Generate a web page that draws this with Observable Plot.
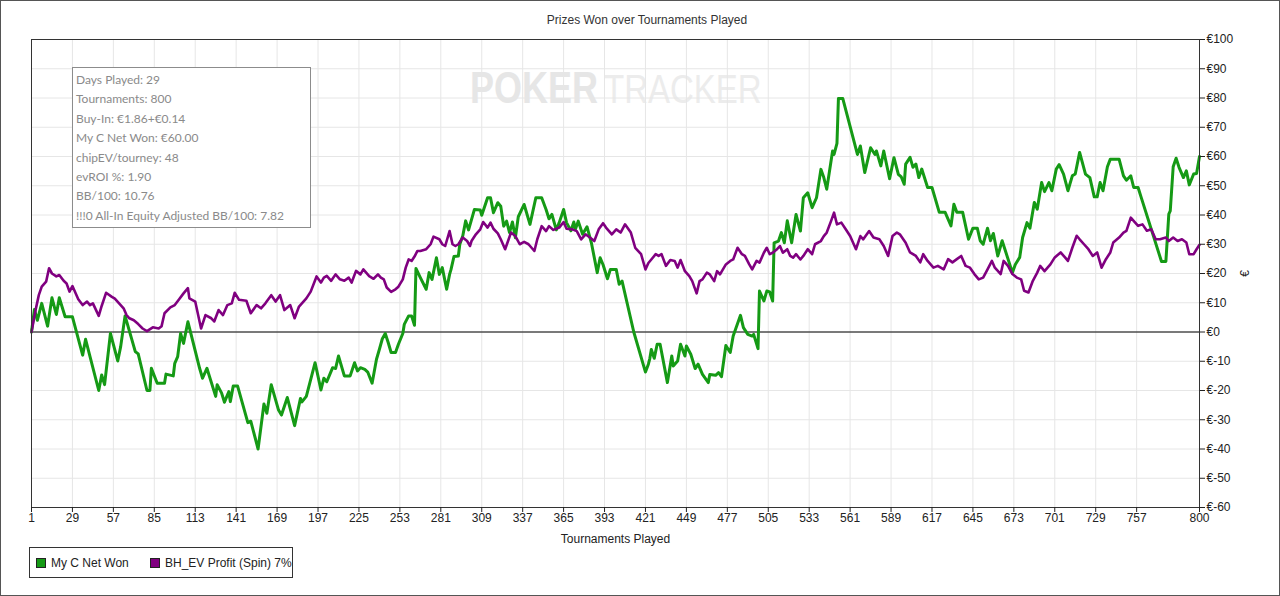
<!DOCTYPE html>
<html>
<head>
<meta charset="utf-8">
<script src="https://cdn.jsdelivr.net/npm/d3@7"></script>
<script src="https://cdn.jsdelivr.net/npm/@observablehq/plot@0.6"></script>
<style>
  html, body { margin: 0; padding: 0; background: #fff; }
  #wrap { position: relative; width: 1280px; height: 596px; overflow: hidden; background: #fff; font-family: "Liberation Sans", Arial, sans-serif; }
  #wm { position: absolute; left: 466px; top: 60px; z-index: 0; overflow: visible; }
  #chart { position: absolute; left: 0; top: 0; z-index: 1; }
  #title { position: absolute; left: 0; top: 13px; width: 1294px; text-align: center; font-size: 12px; color: #333; z-index: 2; }
  #info { position: absolute; left: 72px; top: 67px; width: 239px; height: 161px; border: 1px solid #8c8c8c; background: #fff; z-index: 2; font-family: "Segoe UI", Lato, "Open Sans", sans-serif; font-size: 12px; color: #8a8a8a; padding: 2px 0 0 3px; box-sizing: border-box; }
  #info div { height: 19.4px; line-height: 19.4px; white-space: nowrap; }
  #legend { position: absolute; left: 29px; top: 547px; width: 264px; height: 31px; border: 1px solid #333; box-sizing: border-box; z-index: 2; font-size: 12px; color: #222; }
  .item { position: absolute; top: 8px; white-space: nowrap; line-height: 14px; }
  .sw { display: inline-block; width: 8px; height: 8px; border: 1px solid #222; vertical-align: -1px; margin-right: 5px; }
  #border { position: absolute; left: 0; top: 0; width: 1280px; height: 596px; border: 1px solid #555; box-sizing: border-box; z-index: 3; pointer-events: none; }
</style>
</head>
<body>
<div id="wrap">
  <svg id="wm" width="304" height="56">
    <g transform="translate(0,43) scale(1,1.25)" font-family="Liberation Sans, Arial, sans-serif">
      <text x="4" y="0" font-size="36" font-weight="bold" fill="#e6e6e6">POKER</text>
      <text x="138" y="0" font-size="33" fill="#ececec">TRACKER</text>
    </g>
  </svg>
  <div id="chart"></div>
  <div id="title">Prizes Won over Tournaments Played</div>
  <div id="info"></div>
  <div id="legend"></div>
  <div id="border"></div>
</div>
<script>
// ---- data ----
const greenT = [1,3,5,8,12,15,18,20,24,29,36,38,47,49,51,55,60,62,65,72,74,80,82,83,85,87,92,93,98,99,101,103,105,108,110,116,118,121,127,128,131,133,136,137,139,142,149,151,156,160,162,165,170,172,176,181,185,186,189,195,199,201,203,207,209,211,215,219,222,224,226,229,231,234,237,239,241,243,245,247,250,252,255,256,259,261,263,264,267,271,273,275,278,280,282,285,287,288,290,293,294,296,298,300,304,308,309,313,315,317,320,322,324,326,328,330,332,334,338,342,346,350,353,355,357,360,362,365,367,370,372,373,375,378,381,384,388,390,392,395,397,401,403,405,413,421,423,424,425,427,429,431,436,439,440,443,445,448,449,452,455,457,460,464,465,469,471,473,476,479,481,486,488,491,494,495,498,499,502,504,506,508,509,512,514,516,518,521,524,527,529,532,535,538,541,543,545,549,550,552,553,556,566,568,571,575,578,579,582,584,588,591,594,596,598,599,602,604,606,608,610,614,617,622,626,630,632,634,638,642,645,648,650,652,655,657,659,662,665,672,674,677,679,682,684,687,689,692,694,697,699,702,704,707,710,713,715,718,722,725,728,730,732,734,737,739,745,748,750,753,755,758,760,774,777,779,780,782,784,786,789,791,793,796,798,800];
const greenV = [0,7.7,4,9.8,2,11.7,6,11.7,5.2,5.2,-7.9,-2.5,-20,-14.7,-18,-0.5,-9.9,-5,5.5,-6.7,-7.5,-20,-20,-12.4,-15,-17.5,-17.5,-14.4,-15,-10.7,-8.4,-0.5,-3.9,3.5,-0.5,-12.4,-15.8,-12.4,-22,-18,-20.8,-24,-20.4,-23.8,-18.5,-18.5,-31,-30.5,-40,-24.6,-27.8,-18,-26.7,-28.4,-22.4,-32,-22.7,-23.9,-22,-10.5,-19.8,-15.8,-17,-12.2,-12.5,-8.2,-15,-15,-10.5,-13.3,-12.2,-12.8,-13.7,-17.5,-9.3,-5.9,-2.3,-0.5,-3.6,-7,-7,-4.2,-0.5,2.6,5.5,5.5,2.3,21.7,18.6,14.6,20.3,18,25.4,19.7,22,14.6,19.7,21.4,25.8,26,30,32.8,38,34.9,41.9,41.7,39.9,45.9,45.9,40.8,44.2,43,36.2,37.9,34,37.6,32.2,39.4,43.6,36.8,45.9,45.9,41.9,38.7,40.2,34.9,37.4,41.9,37.4,34.6,37.6,35,37.9,33.4,36,30.5,20.3,25.4,23,18.2,21.4,21.4,16.3,17.4,0,-13.7,-11,-9,-6,-9,-4.2,-4.2,-17.3,-8.2,-11.6,-9.9,-4.2,-8.2,-4.8,-7.6,-12.5,-11,-14.5,-17.3,-14.5,-14.8,-13.9,-15.3,-4.6,-7,-1.4,5.7,1.5,-0.8,-1.4,-0.8,-5.7,14,10.6,14,13.7,10.6,30.5,31.1,34,30.5,38,30.5,40.2,34.5,45.9,47.6,42.5,45.9,55.6,52.8,48.8,61.9,60.7,64.5,79.8,79.8,60.7,63.6,54.5,63,60.7,61.9,56.8,61.9,52.4,59.6,53.9,53,50.5,57.4,59.7,56.3,57.4,52.8,55.7,49.4,49.4,40.9,40.9,36.3,43.7,40.9,40.9,31.7,35.5,35.5,31.2,30,35.5,31.2,33.7,26,31.2,20.3,23.1,25.5,32.3,37.4,35.5,44.3,42,51.1,48,51.1,48.3,55.7,57.2,54,48.3,53.4,54,61.4,54,52.8,46.2,46.2,51.1,48.3,56.5,59.1,59.1,53.4,51.9,53.4,49.4,49.4,46.2,24.1,24.1,40.3,41.4,56.5,59.4,56.3,52.8,55.1,50.3,54,54.2,60];

const purpleT = [1,4,6,8,11,13,15,18,20,23,25,27,29,33,36,39,41,43,47,49,52,56,58,64,66,68,71,74,77,80,84,88,90,92,96,99,102,105,108,109,113,117,120,124,126,129,132,135,138,140,143,148,151,155,158,161,165,168,171,174,178,181,184,189,192,196,199,201,203,206,209,212,215,218,220,223,226,228,232,235,238,240,242,244,247,250,252,255,257,259,261,263,265,267,271,274,276,280,282,284,287,289,291,293,296,299,301,302,305,308,310,313,315,317,320,322,325,327,329,332,335,338,341,345,347,350,353,355,358,362,365,367,371,374,377,380,383,386,389,392,394,398,401,404,407,411,414,418,421,423,425,428,430,432,435,438,441,443,445,448,451,453,456,458,460,463,465,468,470,472,476,479,481,484,487,489,492,494,497,499,502,504,506,508,511,513,515,518,520,522,524,527,529,532,535,537,541,543,545,548,550,552,555,558,561,565,568,570,574,577,581,584,587,590,593,595,599,602,606,609,611,614,618,621,625,628,631,634,637,640,643,646,649,652,655,658,660,664,666,669,672,675,678,680,683,686,689,691,694,698,701,705,708,710,713,716,718,721,724,727,730,733,736,739,741,745,748,750,753,756,758,761,764,767,770,773,777,779,782,785,788,791,793,796,798,800];
const purpleV = [0,8,12.6,15.5,17.2,21.8,20,19,19.5,17.5,16.6,13.8,15.7,11.2,9.2,10.4,9.2,9.8,5.5,8.9,13.4,12,11.4,8.1,5.8,4.7,4,2.7,1.2,0.3,1.6,1.2,2,6.4,8.4,9.2,11.2,13.2,15,11.5,10.4,1.2,5.8,4.7,3.6,7.5,5.8,9.2,9.8,13.4,11,10.7,6.4,9.2,8.1,9.8,12.6,10.4,12.6,7.5,9.2,4.7,8.7,11.5,13.8,19,16.9,18.6,19.2,17.5,19.7,18,17.5,18.6,16.9,20.9,19.7,21.4,19.1,18.2,19.7,18.6,18,15.2,13.7,14.6,15.5,18,22,24.8,24.3,25.8,27.7,27.7,28.3,30,32.6,31.7,30,29.4,34.5,30,29.4,30,32.3,31.1,29.4,31.1,33.4,35.1,37.6,35.7,37.4,35.3,33.7,31.7,28.3,31.1,34,32.8,30,30.8,30,27.7,31.7,36.2,34.5,36.2,34.9,35.7,37.6,35.3,35.1,34.5,31.7,33.4,32.3,31.1,35.1,37.2,35.7,33.4,35.1,34,36.8,34,28.8,26.6,21.4,23.6,24.8,26.6,26,26.6,22.6,24.6,24.3,22,24.6,20.8,19.1,17.4,13.2,17.4,18,20.3,19.7,17.4,20.8,19.7,23.1,24.3,24.8,28.8,26.6,26,23.1,21.4,24.3,23.7,27.1,28.8,26.6,27.1,28.3,29.4,27.1,28.3,26,25.4,26.6,24.8,26,28.3,26.6,30,31.1,32.8,34,38,40.8,36.8,37.4,35.1,32.8,28.3,32.8,31.7,34.5,32.3,31.7,29.4,26,32.8,34,33.4,30.5,27.2,26,23.8,26.6,24.3,22,22.6,21.4,24.9,23.8,24.9,26,22.6,22,19.8,18,18.6,21.4,24.3,22,19.8,24.3,22.6,19.8,18.6,18,14.1,13.5,17.5,20.3,22.6,20.8,23.1,25.5,27.2,25.5,24.3,28.8,32.9,31.7,30,28.3,26,27.2,22,24.9,27.2,30.6,32.3,34,34.6,39.1,37.4,36.3,36.8,34.6,35.1,31.7,31.7,32.3,31.1,32.3,31.1,31.7,30.6,26.6,26.6,28.3,29.8];

const xTicks = [1,29,57,85,113,141,169,197,225,253,281,309,337,365,393,421,449,477,505,533,561,589,617,645,673,701,729,757,800];
const yTicks = [-60,-50,-40,-30,-20,-10,0,10,20,30,40,50,60,70,80,90,100];

const seriesNames = ["My C Net Won", "BH_EV Profit (Spin) 7%"];
const seriesColors = ["#159a15", "#800080"];

const infoLines = ["Days Played: 29", "Tournaments: 800", "Buy-In: €1.86+€0.14", "My C Net Won: €60.00", "chipEV/tourney: 48", "evROI %: 1.90", "BB/100: 10.76", "!!!0 All-In Equity Adjusted BB/100: 7.82"];

// ---- build ----
const green = greenT.map((t, i) => ({t, v: greenV[i]}));
const purple = purpleT.map((t, i) => ({t, v: purpleV[i]}));

const chart = Plot.plot({
  width: 1280,
  height: 596,
  marginTop: 39,
  marginBottom: 89,
  marginLeft: 31,
  marginRight: 81,
  style: {background: "transparent", fontFamily: "'Liberation Sans', Arial, sans-serif", fontSize: "12px", color: "#222"},
  x: {domain: [1, 800]},
  y: {domain: [-60, 100]},
  marks: [
    Plot.gridX(xTicks, {stroke: "#e6e6e6", strokeOpacity: 1}),
    Plot.gridY(yTicks, {stroke: "#e6e6e6", strokeOpacity: 1}),
    Plot.ruleY([0], {stroke: "#000", strokeWidth: 1}),
    Plot.line(green, {x: "t", y: "v", stroke: seriesColors[0], strokeWidth: 3, strokeLinejoin: "round"}),
    Plot.line(purple, {x: "t", y: "v", stroke: seriesColors[1], strokeWidth: 2.6, strokeLinejoin: "round"}),
    Plot.frame({stroke: "#333"}),
    Plot.axisX({ticks: xTicks, tickSize: 5, tickPadding: 1, tickFormat: d => String(d), label: "Tournaments Played", labelAnchor: "center", labelArrow: "none", labelOffset: 35}),
    Plot.axisY({anchor: "right", ticks: yTicks, tickSize: 5, tickPadding: 2, tickFormat: d => "€" + d, label: "€", labelAnchor: "center", labelArrow: "none", labelOffset: 49})
  ]
});
document.getElementById("chart").appendChild(chart);

const info = document.getElementById("info");
infoLines.forEach(s => { const d = document.createElement("div"); d.textContent = s; info.appendChild(d); });

const legend = document.getElementById("legend");
const lefts = [6, 120];
seriesNames.forEach((name, i) => {
  const it = document.createElement("div");
  it.className = "item";
  it.style.left = lefts[i] + "px";
  const sw = document.createElement("span");
  sw.className = "sw";
  sw.style.background = seriesColors[i];
  it.appendChild(sw);
  it.appendChild(document.createTextNode(name));
  legend.appendChild(it);
});
</script>
</body>
</html>
